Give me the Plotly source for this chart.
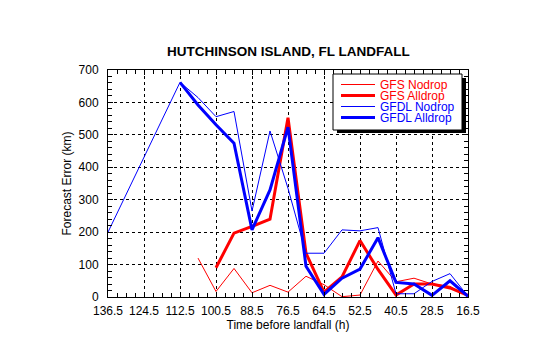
import plotly.graph_objects as go

# ---------------- data ----------------
gfdl_nodrop_x = [136.5, 112.5, 106.5, 100.5, 94.5, 88.5, 82.5, 76.5, 70.5, 64.5,
                 58.5, 52.5, 46.5, 40.5, 34.5, 28.5, 22.5, 16.5]
gfdl_nodrop_y = [200, 662, 615, 556, 572, 265, 512, 335, 135, 135,
                 207, 204, 214, 10, 10, 48, 72, 2]

gfdl_alldrop_x = [112.5, 106.5, 100.5, 94.5, 88.5, 82.5, 76.5, 70.5, 64.5,
                  58.5, 52.5, 46.5, 40.5, 34.5, 28.5, 22.5, 16.5]
gfdl_alldrop_y = [662, 592, 531, 474, 207, 330, 524, 95, 8,
                  58, 86, 183, 45, 40, 5, 50, 2]

gfs_nodrop_x = [106.5, 100.5, 94.5, 88.5, 82.5, 76.5, 70.5, 64.5,
                58.5, 52.5, 46.5, 40.5, 34.5, 28.5, 22.5, 16.5]
gfs_nodrop_y = [120, 17, 88, 13, 36, 15, 64, 38,
                1, 6, 111, 47, 58, 40, 33, 2]

gfs_alldrop_x = [100.5, 94.5, 88.5, 82.5, 76.5, 70.5, 64.5,
                 58.5, 52.5, 46.5, 40.5, 34.5, 28.5, 22.5, 16.5]
gfs_alldrop_y = [90, 197, 218, 240, 553, 135, 15,
                 62, 174, 85, 6, 40, 40, 28, 5]

x_ticks = [136.5, 124.5, 112.5, 100.5, 88.5, 76.5, 64.5, 52.5, 40.5, 28.5, 16.5]
y_ticks = [0, 100, 200, 300, 400, 500, 600, 700]

series = [
    ("GFS Nodrop", gfs_nodrop_x, gfs_nodrop_y, "#ff0000", 1),
    ("GFS Alldrop", gfs_alldrop_x, gfs_alldrop_y, "#ff0000", 3),
    ("GFDL Nodrop", gfdl_nodrop_x, gfdl_nodrop_y, "#0000ff", 1),
    ("GFDL Alldrop", gfdl_alldrop_x, gfdl_alldrop_y, "#0000ff", 3),
]

FONT = "Liberation Sans, Arial, Helvetica, sans-serif"

fig = go.Figure()
for name, xs, ys, col, w in series:
    fig.add_trace(go.Scatter(x=xs, y=ys, mode="lines", name=name,
                             line=dict(color=col, width=w), showlegend=False))

# plot area in pixels
L, R, T, B = 108, 468, 70, 297
W, H = 540, 344


def px(xp):
    return (xp - L) / (R - L)


def py(yp):
    return (B - yp) / (B - T)


shapes = []
annotations = []
# legend shadow & box
shapes.append(dict(type="rect", xref="paper", yref="paper",
                   x0=px(337), x1=px(466), y0=py(133), y1=py(78),
                   fillcolor="black", line=dict(width=0)))
shapes.append(dict(type="rect", xref="paper", yref="paper",
                   x0=px(333), x1=px(462), y0=py(130), y1=py(74),
                   fillcolor="white", line=dict(color="black", width=1)))
row_y = [84.5, 95.5, 106.5, 117.5]
for (name, xs, ys, col, w), ry in zip(series, row_y):
    shapes.append(dict(type="line", xref="paper", yref="paper",
                       x0=px(341), x1=px(375), y0=py(ry), y1=py(ry),
                       line=dict(color=col, width=w)))
    annotations.append(dict(text=name, xref="paper", yref="paper",
                            x=px(378), y=py(ry), xanchor="left", yanchor="middle",
                            showarrow=False, font=dict(family=FONT, size=12, color=col)))

annotations.append(dict(text="<b>HUTCHINSON ISLAND, FL LANDFALL</b>", xref="paper", yref="paper",
                        x=0.5, y=py(51.5), xanchor="center", yanchor="middle",
                        showarrow=False, font=dict(family=FONT, size=13.5, color="black")))

axis_common = dict(
    showline=True, linecolor="black", linewidth=1, mirror="ticks",
    ticks="inside", ticklen=5, tickcolor="black", tickwidth=1,
    showgrid=True, gridcolor="black", griddash="dot", gridwidth=1,
    zeroline=False,
    tickfont=dict(family=FONT, size=12, color="black"),
)

fig.update_xaxes(
    range=[136.5, 16.5], tickmode="array", tickvals=x_ticks,
    ticktext=[f"{v:.1f}" for v in x_ticks],
    minor=dict(dtick=3, tick0=16.5, ticks="inside", ticklen=4, tickcolor="black", showgrid=False),
    title=dict(text="Time before landfall (h)", font=dict(family=FONT, size=12, color="black"), standoff=2),
    ticklabelstandoff=3,
    **axis_common,
)
fig.update_yaxes(
    range=[0, 700], tickmode="array", tickvals=y_ticks,
    minor=dict(dtick=20, tick0=0, ticks="inside", ticklen=4, tickcolor="black", showgrid=False),
    title=dict(text="Forecast Error (km)", font=dict(family=FONT, size=12, color="black"), standoff=4),
    ticklabelstandoff=6,
    **axis_common,
)

fig.update_layout(
    width=W, height=H,
    margin=dict(l=L, r=W - R, t=T, b=H - B, pad=0),
    paper_bgcolor="white", plot_bgcolor="white",
    shapes=shapes, annotations=annotations,
    font=dict(family=FONT, color="black"),
)

fig.write_html("out.html")
